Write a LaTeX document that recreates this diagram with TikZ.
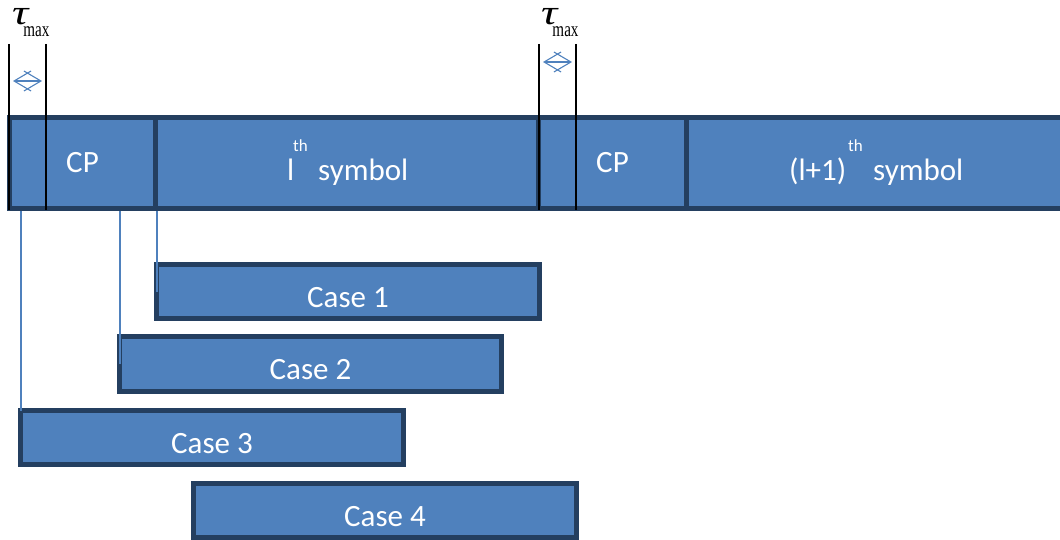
\documentclass[tikz,border=0pt]{standalone}
\usepackage{fontspec}
\usepackage{graphicx}
\setmainfont{Carlito}
\newfontfamily\greekserif{Liberation Serif}
\usetikzlibrary{arrows.meta,calc}
\definecolor{fillblue}{HTML}{4F81BD}
\definecolor{edgeblue}{HTML}{243F60}
\newcommand{\taumax}{\smash{\scalebox{1.3}[1]{\greekserif\fontsize{35}{35}\selectfont\itshape τ}}\hspace*{-5pt}\raisebox{-12pt}{\greekserif\fontsize{21}{21}\selectfont\scalebox{0.72}[1]{max}}}
\begin{document}
\begin{tikzpicture}[x=1pt,y=-1pt,
  seg/.style={draw=edgeblue, fill=fillblue, line width=5pt, minimum height=91pt,
    inner sep=0pt, outer sep=0pt},
  casebox/.style={draw=edgeblue, fill=fillblue, line width=5pt, minimum width=383pt,
    minimum height=54pt, inner sep=0pt, outer sep=0pt},
  wtxt/.style={text=white, font=\fontsize{31}{36}\selectfont, inner sep=0pt},
  suptxt/.style={text=white, font=\fontsize{17}{20}\selectfont, inner sep=0pt},
  taulbl/.style={inner sep=0pt},
  guide/.style={draw=black, line width=2pt},
  feed/.style={draw=fillblue, line width=1.5pt},
  delay/.style={draw=fillblue, line width=1.1pt,
    {Straight Barb[length=17pt,width=20pt]}-{Straight Barb[length=17pt,width=20pt]}},
  shaft/.style={draw=fillblue, double=white, double distance=1.2pt, line width=0.7pt}
]
\useasboundingbox (0,0) rectangle (1060,540);

% OFDM symbol stream: CP + l-th symbol, CP + (l+1)-th symbol
\node[seg, minimum width=145.5pt] (cp1) at (82.25,163) {};
\node[seg, minimum width=383pt]   (sym1) at (346.5,163) {};
\node[seg, minimum width=148pt]   (cp2) at (612,163) {};
\node[seg, minimum width=389pt]   (sym2) at (880.5,163) {};

\node[wtxt, anchor=base] (cp1t) at (82.5,173) {CP};
\node[wtxt, anchor=base] (cp2t) at (612.5,173) {CP};
\node[wtxt, anchor=base west] (l1) at (287,181) {l};
\node[suptxt, anchor=base west] (th1) at (293,152) {th};
\node[wtxt, anchor=base west] (s1) at (318,181) {symbol};
\node[wtxt, anchor=base west] (l2) at (789,181) {(l+1)};
\node[suptxt, anchor=base west] (th2) at (848,152) {th};
\node[wtxt, anchor=base west] (s2) at (873,181) {symbol};

% maximum delay spread markers
\coordinate (g1t) at (9,44);   \coordinate (g1b) at (9,210);
\coordinate (g2t) at (46,44);  \coordinate (g2b) at (46,210);
\coordinate (g3t) at (539,44); \coordinate (g3b) at (539,210);
\coordinate (g4t) at (576,44); \coordinate (g4b) at (576,210);
\draw[guide] (g1t) -- (g1b);
\draw[guide] (g2t) -- (g2b);
\draw[guide] (g3t) -- (g3b);
\draw[guide] (g4t) -- (g4b);

\coordinate (d1a) at (13,81);  \coordinate (d1b) at (42,81);
\coordinate (d2a) at (543,62); \coordinate (d2b) at (572,62);
\draw[shaft] (d1a) -- (d1b);
\draw[delay] (d1a) -- (d1b);
\draw[shaft] (d2a) -- (d2b);
\draw[delay] (d2a) -- (d2b);

\node[taulbl, anchor=base west] (tau1) at (12,25) {\taumax};
\node[taulbl, anchor=base west] (tau2) at (541,25) {\taumax};

% FFT window positions
\node[casebox] (c1) at (348,291.5) {};
\node[casebox, minimum width=382pt, minimum height=55pt] (c2) at (310.5,364) {};
\node[casebox] (c3) at (212,437.5) {};
\node[casebox] (c4) at (385,510.5) {};
\node[wtxt, anchor=base] (c1t) at ($(c1.north)+(0,42.5)$) {Case 1};
\node[wtxt, anchor=base] (c2t) at ($(c2.north)+(0,42.5)$) {Case 2};
\node[wtxt, anchor=base] (c3t) at ($(c3.north)+(0,42.5)$) {Case 3};
\node[wtxt, anchor=base] (c4t) at ($(c4.north)+(0,42.5)$) {Case 4};

\coordinate (f1) at (157,211);
\coordinate (f2) at (120,211);
\coordinate (f3) at (21,211);
\draw[feed] (f1) -- (f1 |- c1.west);
\draw[feed] (f2) -- (f2 |- c2.west);
\draw[feed] (f3) -- (f3 |- c3.north);
\end{tikzpicture}
\end{document}
